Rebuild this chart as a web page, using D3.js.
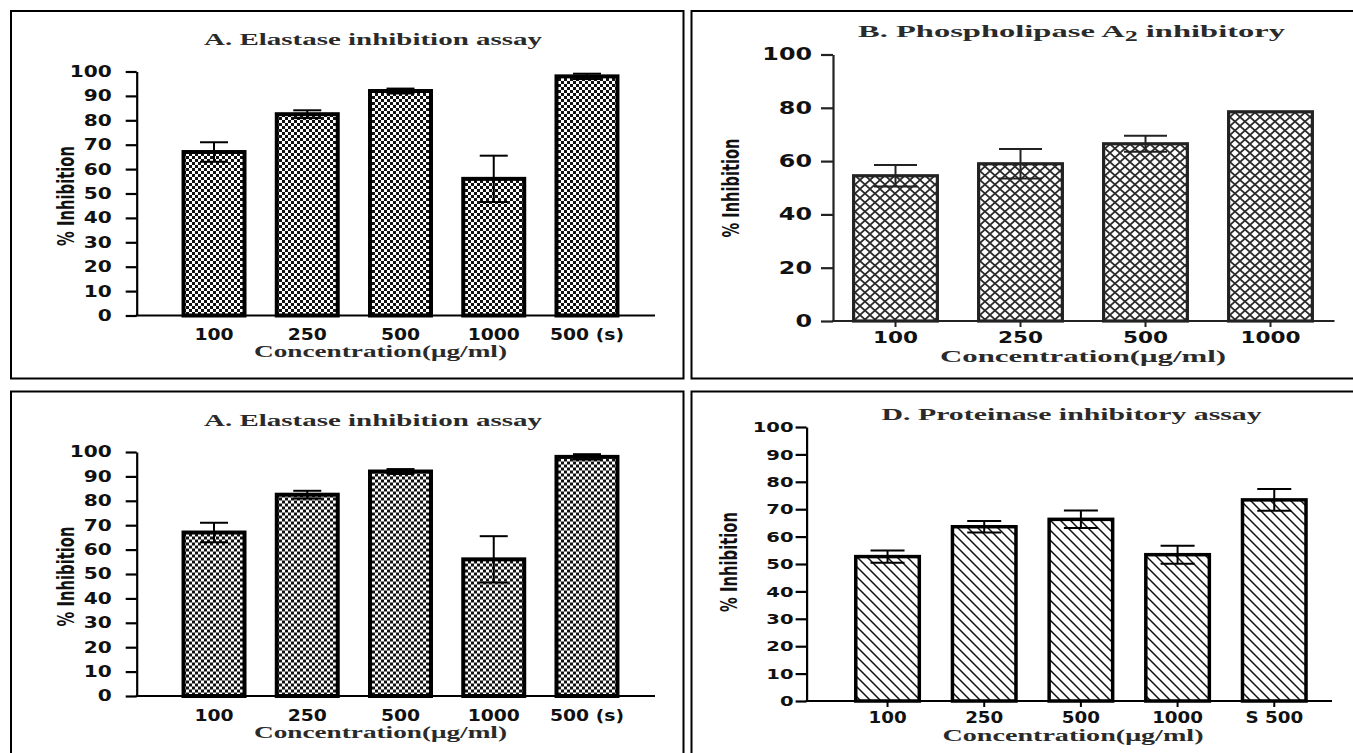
<!DOCTYPE html>
<html>
<head>
<meta charset="utf-8">
<script src="https://cdn.jsdelivr.net/npm/d3@7"></script>
<style>
  body { margin: 0; background: #fff; }
  svg { display: block; }
</style>
</head>
<body>
<div id="chart"></div>
<script>
// values
const elastaseLabels = ["100", "250", "500", "1000", "500 (s)"];
const elastaseMeans = [67, 82.5, 92, 56, 98];
const elastaseErr = [4, 1.6, 1, 9.5, 1.1];

const plaLabels = ["100", "250", "500", "1000"];
const plaMeans = [54.5, 59, 66.5, 78.5];
const plaErr = [4, 5.5, 3, 0];

const proteinaseLabels = ["100", "250", "500", "1000", "S 500"];
const proteinaseMeans = [52.7, 63.6, 66.3, 53.4, 73.4];
const proteinaseErr = [2.2, 2.1, 3.2, 3.3, 4];

const ticksBy10 = [0, 10, 20, 30, 40, 50, 60, 70, 80, 90, 100];
const ticksBy20 = [0, 20, 40, 60, 80, 100];

const elastaseTitle = "A. Elastase inhibition assay";
const plaTitle = ["B. Phospholipase A", "2", " inhibitory"];
const proteinaseTitle = "D. Proteinase inhibitory assay";
const xTitle = "Concentration(\u03bcg/ml)";
const yTitle = "% Inhibition";

const W = 1353, H = 753;
const svg = d3.select("#chart").append("svg").attr("width", W).attr("height", H);
const defs = svg.append("defs");

// fill patterns
const checker = defs.append("pattern").attr("id", "checker")
  .attr("width", 6).attr("height", 6).attr("patternUnits", "userSpaceOnUse");
checker.append("rect").attr("width", 6).attr("height", 6).attr("fill", "#fff");
checker.append("rect").attr("width", 3).attr("height", 3).attr("fill", "#111");
checker.append("rect").attr("x", 3).attr("y", 3).attr("width", 3).attr("height", 3).attr("fill", "#111");

const cross = defs.append("pattern").attr("id", "cross")
  .attr("width", 10).attr("height", 9).attr("patternUnits", "userSpaceOnUse");
cross.append("rect").attr("width", 10).attr("height", 9).attr("fill", "#fff");
cross.append("path").attr("d", "M0,0L10,9M10,0L0,9")
  .attr("stroke", "#2a2a2a").attr("stroke-width", 1.7).attr("fill", "none");

const diag = defs.append("pattern").attr("id", "diag")
  .attr("width", 10).attr("height", 10).attr("patternUnits", "userSpaceOnUse");
diag.append("rect").attr("width", 10).attr("height", 10).attr("fill", "#fff");
diag.append("path").attr("d", "M0,0L10,10M-5,5L5,15M5,-5L15,5")
  .attr("stroke", "#111").attr("stroke-width", 1.5).attr("fill", "none");

// panel frames
const frames = [
  [11, 11, 672.5, 367.5],
  [691.5, 11, 700, 367.5],
  [11, 391.5, 672.5, 400],
  [691.5, 391.5, 700, 400]
];
svg.selectAll("rect.frame").data(frames).enter().append("rect")
  .attr("class", "frame")
  .attr("x", d => d[0]).attr("y", d => d[1])
  .attr("width", d => d[2]).attr("height", d => d[3])
  .attr("fill", "none").attr("stroke", "#000").attr("stroke-width", 2);

function stretchText(sel, k) {
  sel.each(function () {
    const len = this.getComputedTextLength();
    d3.select(this).attr("textLength", len * k).attr("lengthAdjust", "spacingAndGlyphs");
  });
}

function drawPanel(p) {
  const g = svg.append("g").attr("transform", `translate(0,${p.dy || 0})`);

  const y = d3.scaleLinear().domain([0, 100]).range([p.y0, p.y100]);
  const x = d3.scaleBand().domain(p.labels).range(p.band)
    .paddingInner(p.pad).paddingOuter(p.pad / 2);

  // bars
  g.selectAll("rect.bar").data(p.means).enter().append("rect")
    .attr("class", "bar")
    .attr("x", (d, i) => x(p.labels[i]))
    .attr("y", d => y(d))
    .attr("width", x.bandwidth())
    .attr("height", d => p.y0 - y(d))
    .attr("fill", `url(#${p.fill})`)
    .attr("stroke", p.color)
    .attr("stroke-width", p.barStroke);

  // error bars
  const eb = g.selectAll("g.err").data(p.means.map((m, i) => ({ m, e: p.err[i], c: p.labels[i] })))
    .enter().filter(d => d.e > 0).append("g").attr("class", "err")
    .attr("stroke", p.color).attr("stroke-width", 2);
  eb.append("line")
    .attr("x1", d => x(d.c) + x.bandwidth() / 2).attr("x2", d => x(d.c) + x.bandwidth() / 2)
    .attr("y1", d => y(d.m - d.e)).attr("y2", d => y(d.m + d.e));
  eb.append("line")
    .attr("x1", d => x(d.c) + x.bandwidth() / 2 - p.cap / 2).attr("x2", d => x(d.c) + x.bandwidth() / 2 + p.cap / 2)
    .attr("y1", d => y(d.m + d.e)).attr("y2", d => y(d.m + d.e));
  eb.append("line")
    .attr("x1", d => x(d.c) + x.bandwidth() / 2 - p.cap / 2).attr("x2", d => x(d.c) + x.bandwidth() / 2 + p.cap / 2)
    .attr("y1", d => y(d.m - d.e)).attr("y2", d => y(d.m - d.e));

  // y axis
  const yAxis = g.append("g").attr("transform", `translate(${p.yAxisX},0)`)
    .call(d3.axisLeft(y).tickValues(p.ticks).tickSize(p.tickSize).tickSizeOuter(0).tickPadding(p.tickPad));
  yAxis.select(".domain").attr("stroke", p.color).attr("stroke-width", 2.2);
  yAxis.selectAll(".tick line").attr("stroke", p.color).attr("stroke-width", 2.2);
  yAxis.selectAll("text")
    .attr("font-family", "DejaVu Sans, Verdana, sans-serif").attr("font-weight", "bold")
    .attr("font-size", p.yFont).attr("fill", "#111");
  stretchText(yAxis.selectAll("text"), p.yStretch);

  // x axis
  const xAxis = g.append("g").attr("transform", `translate(0,${p.y0})`)
    .call(d3.axisBottom(x).tickSize(p.xTick).tickSizeOuter(0));
  xAxis.select(".domain").remove();
  xAxis.selectAll(".tick line").attr("stroke", p.color).attr("stroke-width", 2);
  xAxis.selectAll("text")
    .attr("y", p.xLabelY - p.y0).attr("dy", null)
    .attr("font-family", "DejaVu Sans, Verdana, sans-serif").attr("font-weight", "bold")
    .attr("font-size", p.xFont).attr("fill", "#111");
  stretchText(xAxis.selectAll("text"), p.xStretch);
  g.append("line")
    .attr("x1", p.yAxisX - 1).attr("x2", p.xAxisEnd)
    .attr("y1", p.y0).attr("y2", p.y0)
    .attr("stroke", p.color).attr("stroke-width", 2.2);

  // titles
  const t = g.append("text")
    .attr("x", p.title.x).attr("y", p.title.y)
    .attr("text-anchor", "middle")
    .attr("font-family", "Liberation Serif, Times New Roman, serif").attr("font-weight", "bold")
    .attr("font-size", p.title.size).attr("fill", "#2a2a2a");
  if (Array.isArray(p.titleText)) {
    t.append("tspan").text(p.titleText[0]);
    t.append("tspan").attr("dy", 4).attr("font-size", p.title.size * 0.8).text(p.titleText[1]);
    t.append("tspan").attr("dy", -4).text(p.titleText[2]);
  } else {
    t.text(p.titleText);
  }
  t.attr("textLength", p.title.w).attr("lengthAdjust", "spacingAndGlyphs");

  g.append("text")
    .attr("x", p.xTitle.x).attr("y", p.xTitle.y)
    .attr("text-anchor", "middle")
    .attr("font-family", "Liberation Serif, Times New Roman, serif").attr("font-weight", "bold")
    .attr("font-size", 16).attr("fill", "#2a2a2a")
    .attr("textLength", p.xTitle.w).attr("lengthAdjust", "spacingAndGlyphs")
    .text(xTitle);

  g.append("text")
    .attr("transform", `translate(${p.yTitle.x},${p.yTitle.y}) rotate(-90)`)
    .attr("text-anchor", "middle").attr("dominant-baseline", "central")
    .attr("font-family", "DejaVu Sans Condensed, Liberation Sans Narrow, sans-serif").attr("font-weight", "bold")
    .attr("font-size", 23).attr("fill", "#111")
    .attr("textLength", p.yTitle.w).attr("lengthAdjust", "spacingAndGlyphs")
    .text(yTitle);
}

const panelA = {
  labels: elastaseLabels, means: elastaseMeans, err: elastaseErr, ticks: ticksBy10,
  titleText: elastaseTitle, fill: "checker", color: "#000",
  y0: 315.5, y100: 71.5, yAxisX: 136.7, xAxisEnd: 655,
  band: [167.4, 633.6], pad: 0.346, barStroke: 4, cap: 28,
  tickSize: 11, tickPad: 14, yFont: 15.5, yStretch: 1.3,
  xTick: 0, xLabelY: 340, xFont: 15, xStretch: 1.25,
  title: { x: 373, y: 45, w: 338, size: 16 },
  xTitle: { x: 380.5, y: 357, w: 253 },
  yTitle: { x: 66, y: 196, w: 100 }
};

drawPanel(panelA);
drawPanel(Object.assign({}, panelA, { dy: 380.5 }));

drawPanel({
  labels: plaLabels, means: plaMeans, err: plaErr, ticks: ticksBy20,
  titleText: plaTitle, fill: "cross", color: "#222",
  y0: 321, y100: 54.5, yAxisX: 833, xAxisEnd: 1334.5,
  band: [833, 1333], pad: 0.33, barStroke: 3.2, cap: 43,
  tickSize: 12, tickPad: 9, yFont: 17, yStretch: 1.4,
  xTick: 6, xLabelY: 343, xFont: 16, xStretch: 1.35,
  title: { x: 1071.5, y: 37, w: 427, size: 17 },
  xTitle: { x: 1083, y: 362, w: 286 },
  yTitle: { x: 731, y: 188, w: 99 }
});

drawPanel({
  labels: proteinaseLabels, means: proteinaseMeans, err: proteinaseErr, ticks: ticksBy10,
  titleText: proteinaseTitle, fill: "diag", color: "#000",
  y0: 701, y100: 427, yAxisX: 806.6, xAxisEnd: 1332,
  band: [839.2, 1322.6], pad: 0.343, barStroke: 3.5, cap: 34,
  tickSize: 11, tickPad: 2, yFont: 14.5, yStretch: 1.35,
  xTick: 6, xLabelY: 723, xFont: 15, xStretch: 1.22,
  title: { x: 1071.6, y: 420, w: 380, size: 16 },
  xTitle: { x: 1073, y: 741, w: 261 },
  yTitle: { x: 729, y: 562, w: 100 }
});
</script>
</body>
</html>
